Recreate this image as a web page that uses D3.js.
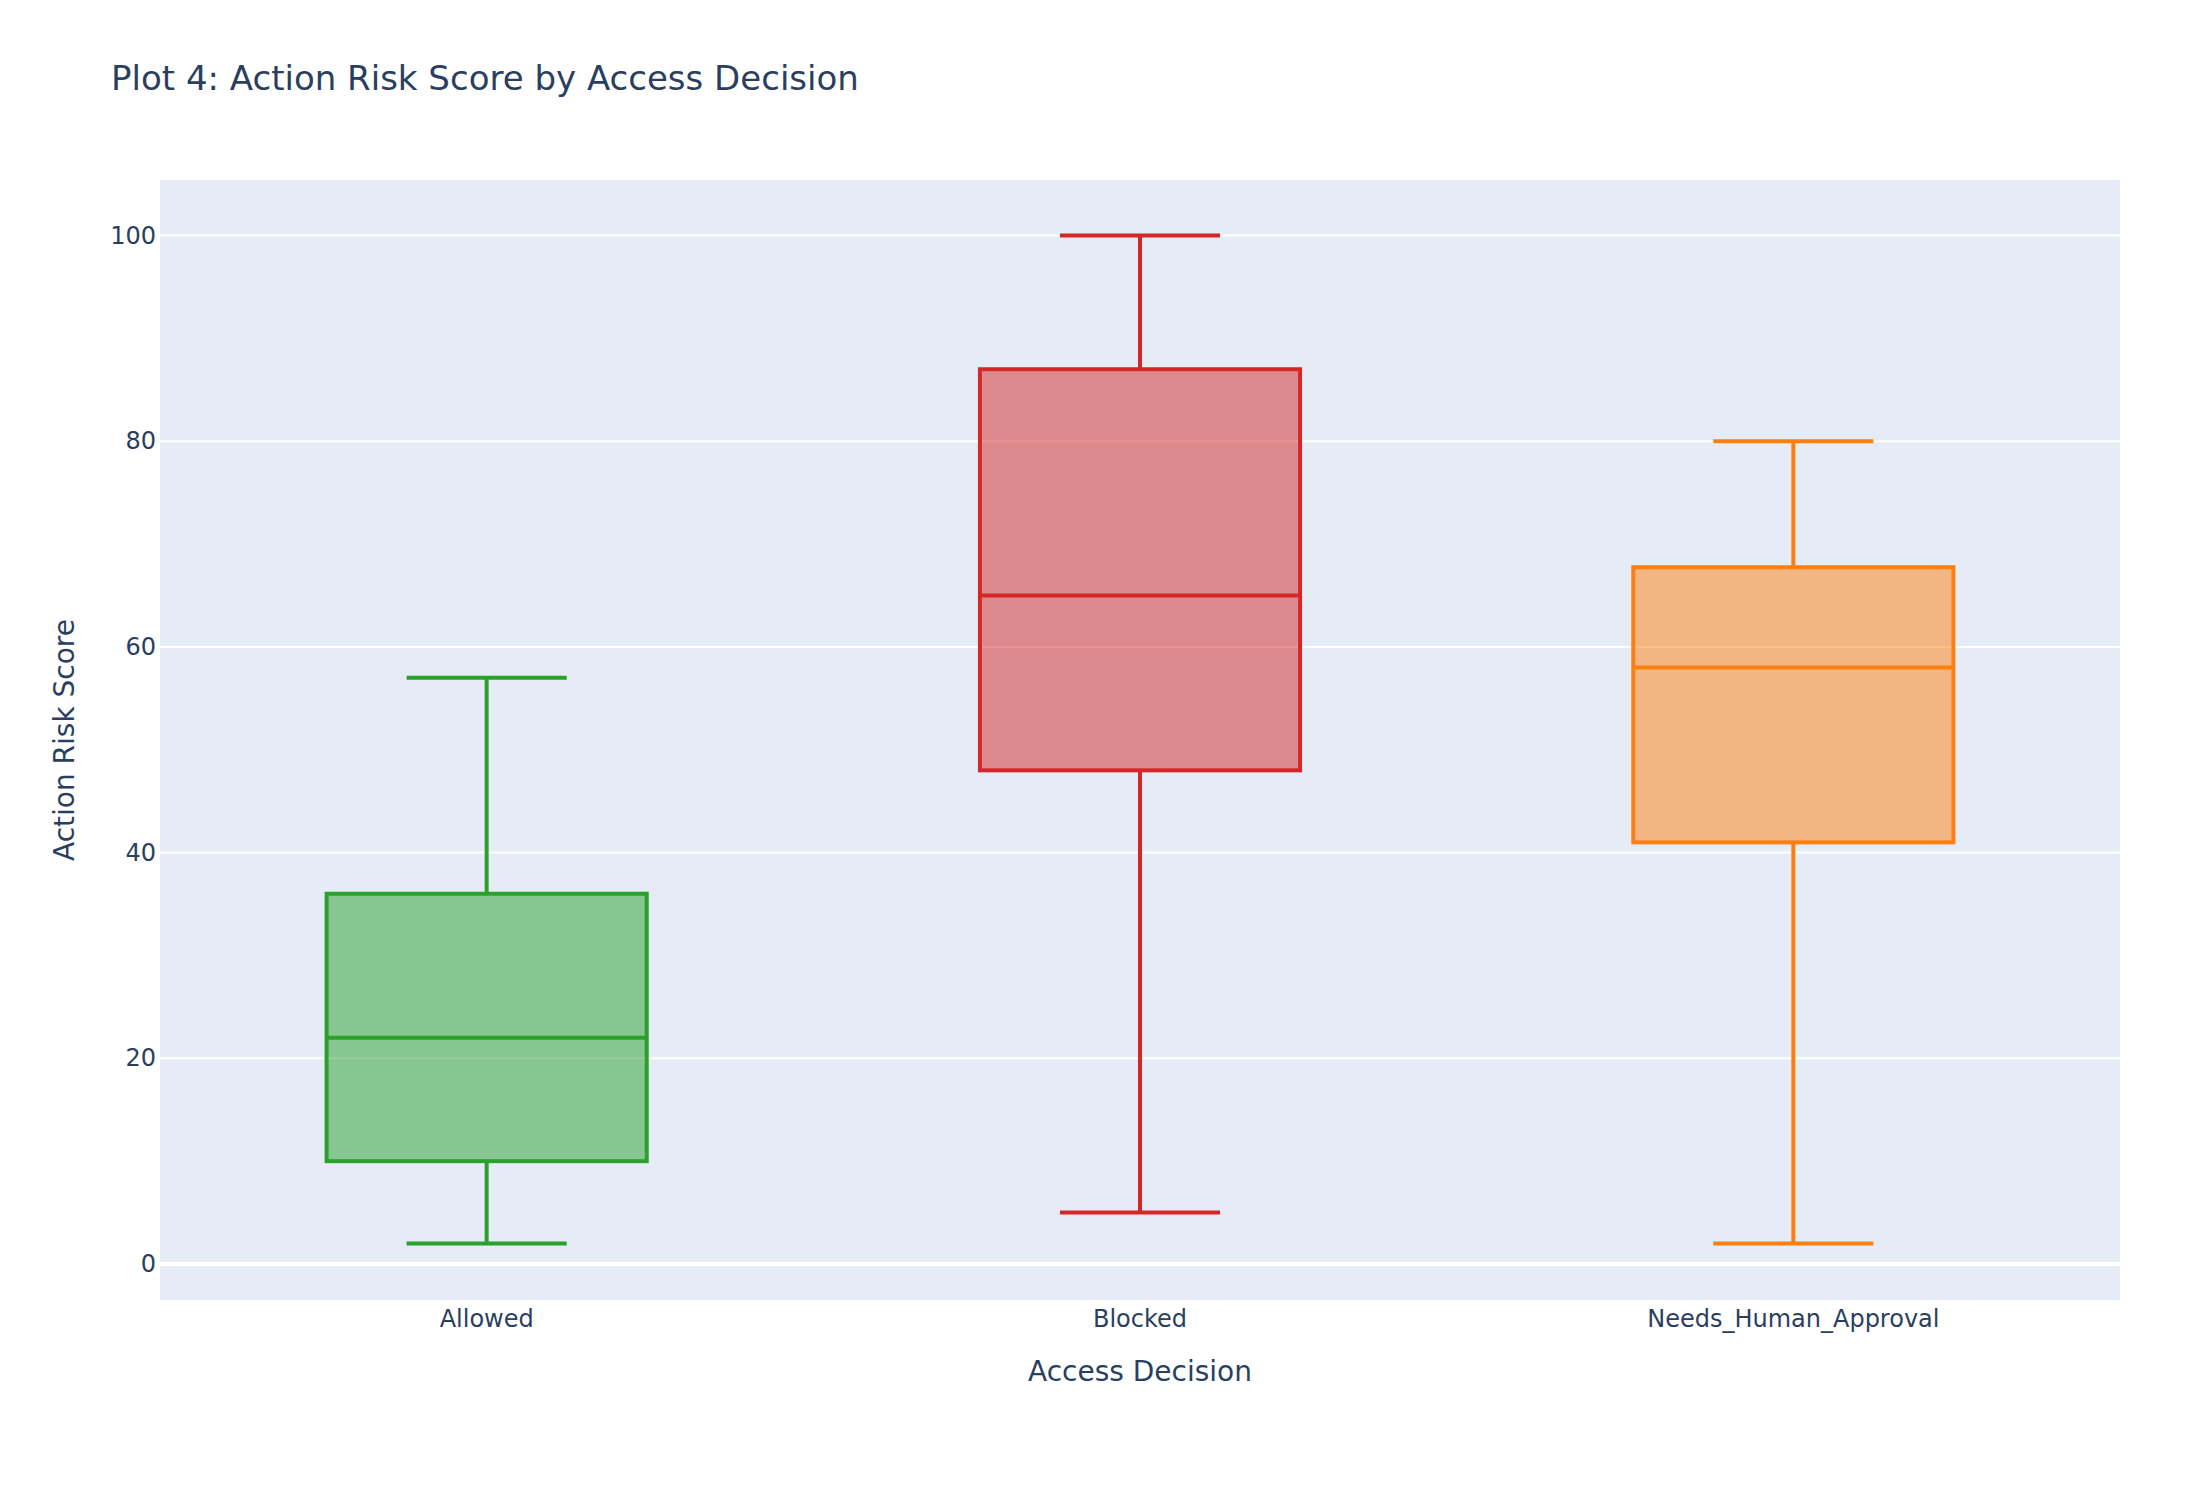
<!DOCTYPE html>
<html>
<head>
<meta charset="utf-8">
<script src="https://cdn.jsdelivr.net/npm/d3@7"></script>
<style>
  body { margin: 0; background: #fff; }
  text { font-family: "DejaVu Sans", sans-serif; fill: #2a3f5f; }
</style>
</head>
<body>
<svg id="chart" width="2200" height="1500"></svg>
<script>
// box stats
var categories = ["Allowed", "Blocked", "Needs_Human_Approval"];
var lowerFence = [2, 5, 2];
var q1 = [10, 48, 41];
var median = [22, 65, 58];
var q3 = [36, 87, 67.75];
var upperFence = [57, 100, 80];
var colors = ["#2ca02c", "#d62728", "#ff7f0e"];
var yTicks = [0, 20, 40, 60, 80, 100];

var svg = d3.select("#chart");
var plotLeft = 160, plotRight = 2120, plotTop = 180, plotBottom = 1300;

svg.append("rect").attr("width", 2200).attr("height", 1500).attr("fill", "#fff");
svg.append("rect")
    .attr("x", plotLeft).attr("y", plotTop)
    .attr("width", plotRight - plotLeft).attr("height", plotBottom - plotTop)
    .attr("fill", "#e5ecf6");

var x = d3.scaleBand().domain(categories).range([plotLeft, plotRight]);
var y = d3.scaleLinear().domain([-3.5, 105.4]).range([plotBottom, plotTop]);

// grid
svg.append("g").selectAll("line").data(yTicks).enter().append("line")
    .attr("x1", plotLeft).attr("x2", plotRight)
    .attr("y1", function (d) { return y(d); })
    .attr("y2", function (d) { return y(d); })
    .attr("stroke", "#fff")
    .attr("stroke-width", function (d) { return d === 0 ? 4 : 2; });

// y axis labels
var yAxis = d3.axisLeft(y).tickValues(yTicks).tickSize(0).tickPadding(4);
var yg = svg.append("g").attr("transform", "translate(" + plotLeft + ",0)").call(yAxis);
yg.select(".domain").remove();
yg.selectAll("text").style("font-size", "24px").attr("fill", "#2a3f5f")
    .style("font-family", "DejaVu Sans, sans-serif");

// x axis labels
var xAxis = d3.axisBottom(x).tickSize(0).tickPadding(10);
var xg = svg.append("g").attr("transform", "translate(0," + plotBottom + ")").call(xAxis);
xg.select(".domain").remove();
xg.selectAll("text").style("font-size", "24px").attr("fill", "#2a3f5f")
    .style("font-family", "DejaVu Sans, sans-serif");

// boxes
var bw = x.bandwidth() * 0.49;
var boxes = svg.append("g").selectAll("g").data(categories).enter().append("g");

boxes.each(function (c, i) {
    var g = d3.select(this);
    var cx = x(c) + x.bandwidth() / 2;
    var col = colors[i];
    // whiskers
    g.append("line").attr("x1", cx).attr("x2", cx)
        .attr("y1", y(upperFence[i])).attr("y2", y(q3[i]))
        .attr("stroke", col).attr("stroke-width", 4);
    g.append("line").attr("x1", cx).attr("x2", cx)
        .attr("y1", y(q1[i])).attr("y2", y(lowerFence[i]))
        .attr("stroke", col).attr("stroke-width", 4);
    // caps
    [upperFence[i], lowerFence[i]].forEach(function (v) {
        g.append("line").attr("x1", cx - bw / 4).attr("x2", cx + bw / 4)
            .attr("y1", y(v)).attr("y2", y(v))
            .attr("stroke", col).attr("stroke-width", 4);
    });
    // box
    g.append("rect")
        .attr("x", cx - bw / 2).attr("width", bw)
        .attr("y", y(q3[i])).attr("height", y(q1[i]) - y(q3[i]))
        .attr("fill", col).attr("fill-opacity", 0.5)
        .attr("stroke", col).attr("stroke-width", 4);
    // median
    g.append("line").attr("x1", cx - bw / 2).attr("x2", cx + bw / 2)
        .attr("y1", y(median[i])).attr("y2", y(median[i]))
        .attr("stroke", col).attr("stroke-width", 4);
});

// titles
svg.append("text").attr("x", 111).attr("y", 90)
    .style("font-size", "34px").text("Plot 4: Action Risk Score by Access Decision");

svg.append("text").attr("x", (plotLeft + plotRight) / 2).attr("y", 1381)
    .attr("text-anchor", "middle").style("font-size", "28px").text("Access Decision");

svg.append("text")
    .attr("transform", "translate(74," + (plotTop + plotBottom) / 2 + ") rotate(-90)")
    .attr("text-anchor", "middle").style("font-size", "28px").text("Action Risk Score");
</script>
</body>
</html>
